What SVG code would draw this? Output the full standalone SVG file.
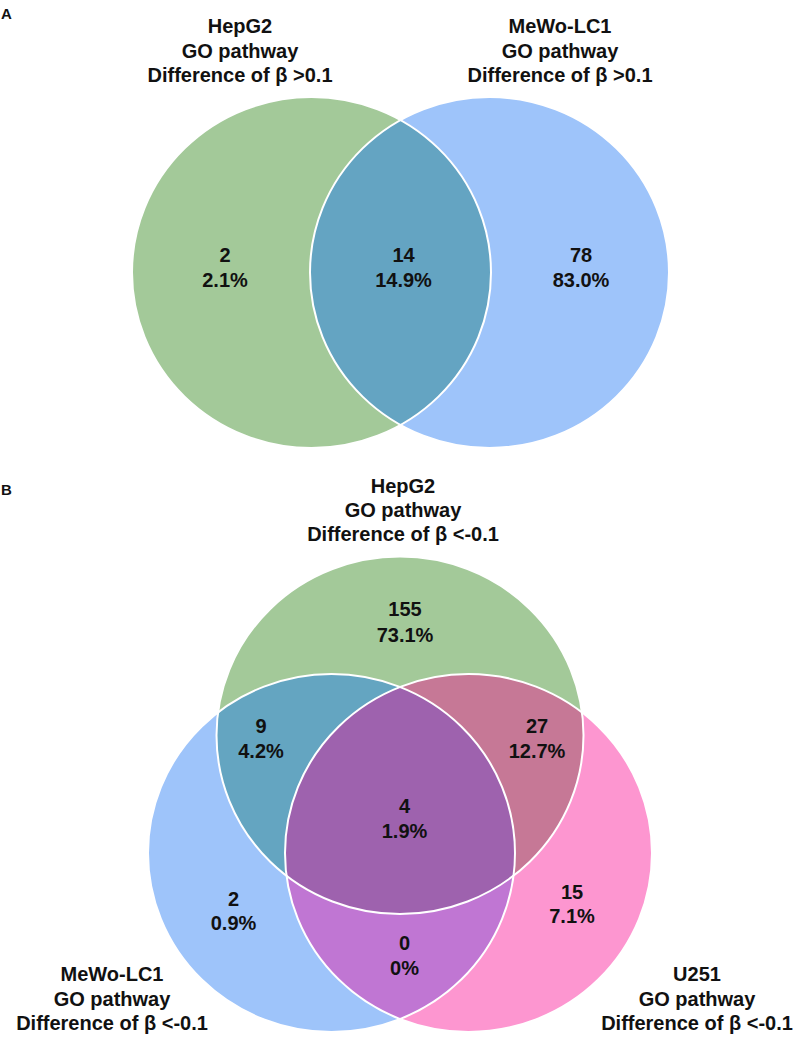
<svg xmlns="http://www.w3.org/2000/svg" width="796" height="1037" viewBox="0 0 796 1037">
<style>
text{font-family:"Liberation Sans",Arial,sans-serif;font-weight:bold;fill:#111;text-anchor:middle;font-size:20px}
.panel{text-anchor:start;font-size:15px}
.outline{fill:none;stroke:#fff;stroke-width:2}
</style>
<defs>
<clipPath id="cAg"><ellipse cx="311.5" cy="272.5" rx="179.5" ry="175.5"/></clipPath>
<clipPath id="cBg"><ellipse cx="400" cy="735.3" rx="183.5" ry="178.7"/></clipPath>
<clipPath id="cBb"><ellipse cx="331.5" cy="853" rx="183.5" ry="179"/></clipPath>
</defs>
<rect width="796" height="1037" fill="#fff"/>
<g id="panel-labels">
<text class="panel" x="1" y="19">A</text>
<text class="panel" x="1" y="495">B</text>
</g>
<!-- Panel A sets -->
<g id="A-HepG2">
<ellipse cx="311.5" cy="272.5" rx="179.5" ry="175.5" fill="#A3C999"/>
<text x="240" y="32.5">HepG2</text>
<text x="240" y="57.5">GO pathway</text>
<text x="240" y="81.5">Difference of β &gt;0.1</text>
</g>
<g id="A-MeWo-LC1">
<ellipse cx="489.5" cy="272.5" rx="179.5" ry="175.5" fill="#9EC4FA"/>
<text x="560" y="32.5">MeWo-LC1</text>
<text x="560" y="57.5">GO pathway</text>
<text x="560" y="81.5">Difference of β &gt;0.1</text>
</g>
<g id="A-overlap">
<ellipse cx="489.5" cy="272.5" rx="179.5" ry="175.5" fill="#64A4C2" clip-path="url(#cAg)"/>
</g>
<g id="A-outlines">
<ellipse class="outline" cx="311.5" cy="272.5" rx="179.5" ry="175.5"/>
<ellipse class="outline" cx="489.5" cy="272.5" rx="179.5" ry="175.5"/>
</g>
<g id="A-counts">
<text x="225" y="262">2</text><text x="225" y="287">2.1%</text>
<text x="403.5" y="262">14</text><text x="403.5" y="287">14.9%</text>
<text x="581" y="262">78</text><text x="581" y="287">83.0%</text>
</g>
<!-- Panel B sets -->
<g id="B-HepG2">
<ellipse cx="400" cy="735.3" rx="183.5" ry="178.7" fill="#A3C999"/>
<text x="403" y="492.5">HepG2</text>
<text x="403" y="516.5">GO pathway</text>
<text x="403" y="540.5">Difference of β &lt;-0.1</text>
</g>
<g id="B-MeWo-LC1">
<ellipse cx="331.5" cy="853" rx="183.5" ry="179" fill="#9EC4FA"/>
</g>
<g id="B-U251">
<ellipse cx="468.5" cy="853" rx="183.5" ry="179" fill="#FD96D0"/>
</g>
<g id="B-overlaps">
<ellipse cx="331.5" cy="853" rx="183.5" ry="179" fill="#64A5C1" clip-path="url(#cBg)"/>
<ellipse cx="468.5" cy="853" rx="183.5" ry="179" fill="#C67896" clip-path="url(#cBg)"/>
<ellipse cx="468.5" cy="853" rx="183.5" ry="179" fill="#C076D3" clip-path="url(#cBb)"/>
<g clip-path="url(#cBg)">
<ellipse cx="468.5" cy="853" rx="183.5" ry="179" fill="#9E62AE" clip-path="url(#cBb)"/>
</g>
</g>
<g id="B-outlines">
<ellipse class="outline" cx="400" cy="735.3" rx="183.5" ry="178.7"/>
<ellipse class="outline" cx="331.5" cy="853" rx="183.5" ry="179"/>
<ellipse class="outline" cx="468.5" cy="853" rx="183.5" ry="179"/>
</g>
<g id="B-titles">
<text x="112" y="981">MeWo-LC1</text>
<text x="112" y="1005.5">GO pathway</text>
<text x="112" y="1029.5">Difference of β &lt;-0.1</text>
<text x="697" y="981">U251</text>
<text x="697" y="1005.5">GO pathway</text>
<text x="697" y="1029.5">Difference of β &lt;-0.1</text>
</g>
<g id="B-counts">
<text x="405" y="616">155</text><text x="405" y="641.5">73.1%</text>
<text x="261" y="733">9</text><text x="261" y="758">4.2%</text>
<text x="537" y="733">27</text><text x="537" y="758">12.7%</text>
<text x="404.5" y="813">4</text><text x="404.5" y="838">1.9%</text>
<text x="233.5" y="906">2</text><text x="233.5" y="930">0.9%</text>
<text x="572" y="899">15</text><text x="572" y="923">7.1%</text>
<text x="404.5" y="950">0</text><text x="404.5" y="975">0%</text>
</g>
</svg>
